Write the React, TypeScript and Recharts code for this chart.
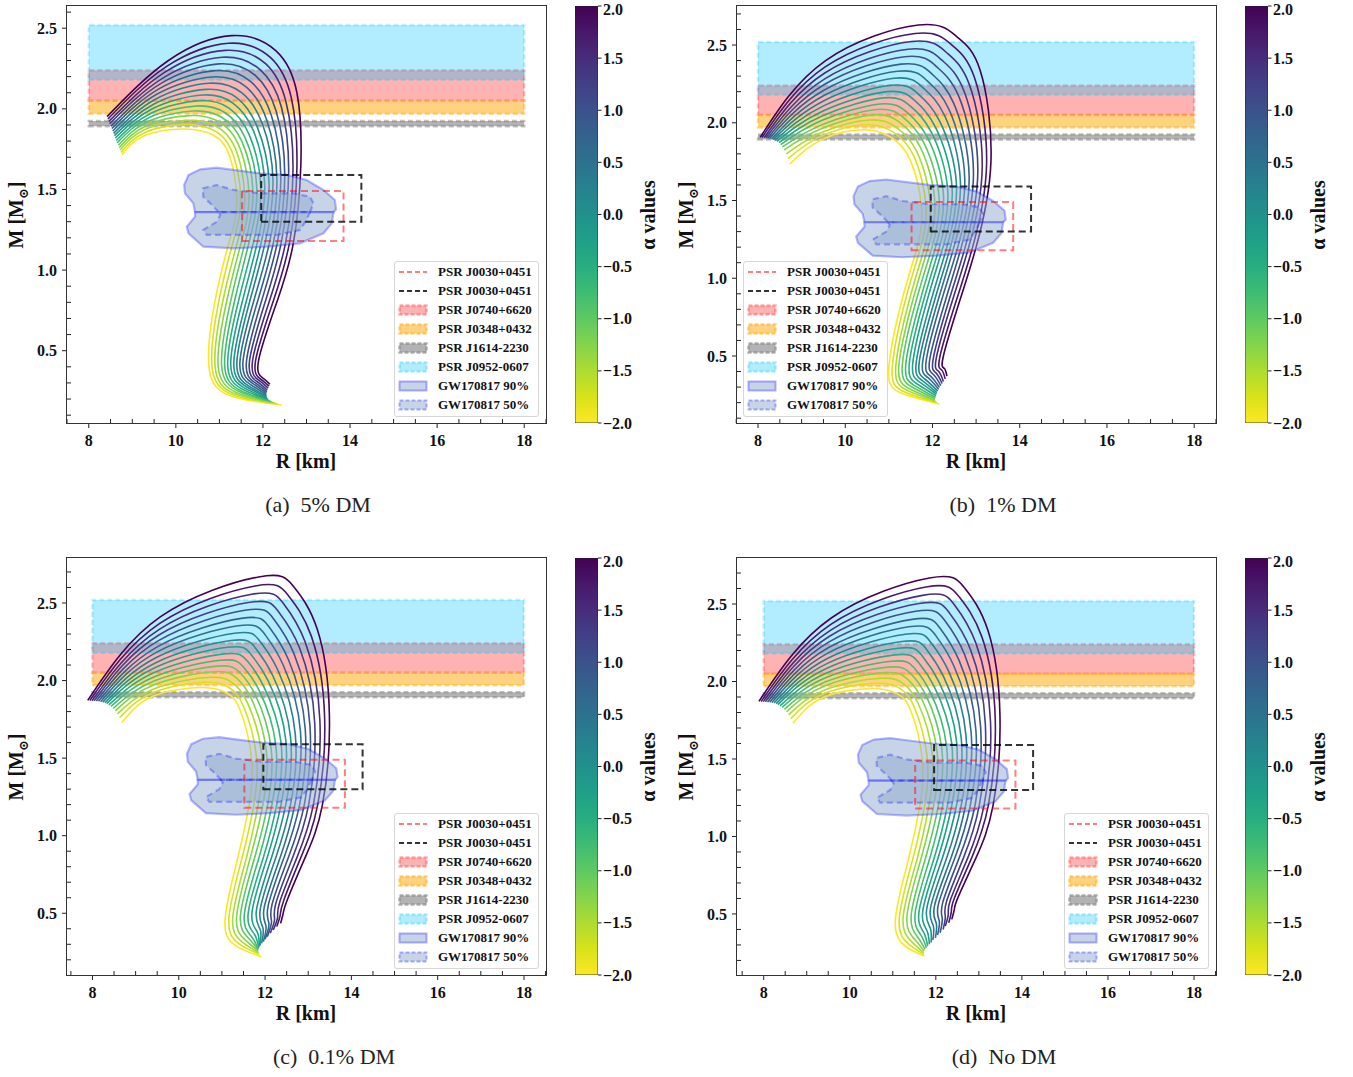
import { ComposedChart, Scatter, XAxis, YAxis } from 'recharts'

// alpha values of the 17 tracks, first = yellow, last = purple
const ALPHAS = [-2, -1.75, -1.5, -1.25, -1, -0.75, -0.5, -0.25, 0, 0.25, 0.5, 0.75, 1, 1.25, 1.5, 1.75, 2]
const CURVE_COLORS = ['#fde725', '#d8e219', '#addc30', '#84d44b', '#5ec962', '#3fbc73', '#28ae80', '#1fa088', '#21918c', '#26828e', '#2c728e', '#33638d', '#3b528b', '#424086', '#472d7b', '#48186a', '#440154']

// points along each M-R track (rows: low-mass end -> bend -> min R -> ... -> max mass -> unstable end)
// panel (a) 5% DM
const A_R = [
  [12.43, 12.34, 12.27, 12.22, 12.18, 12.15, 12.12, 12.10, 12.09, 12.08, 12.08, 12.08, 12.09, 12.10, 12.12, 12.14, 12.16],
  [11.25, 11.30, 11.34, 11.39, 11.44, 11.48, 11.53, 11.58, 11.63, 11.67, 11.72, 11.77, 11.81, 11.86, 11.91, 11.95, 12.00],
  [10.76, 10.83, 10.90, 10.97, 11.05, 11.12, 11.19, 11.26, 11.33, 11.40, 11.47, 11.54, 11.62, 11.69, 11.76, 11.83, 11.90],
  [10.90, 10.99, 11.08, 11.17, 11.26, 11.35, 11.44, 11.53, 11.62, 11.70, 11.79, 11.88, 11.97, 12.06, 12.15, 12.24, 12.33],
  [11.22, 11.31, 11.41, 11.50, 11.59, 11.68, 11.78, 11.87, 11.96, 12.05, 12.15, 12.24, 12.33, 12.42, 12.52, 12.61, 12.70],
  [11.40, 11.49, 11.58, 11.68, 11.77, 11.86, 11.95, 12.04, 12.14, 12.23, 12.32, 12.41, 12.50, 12.59, 12.69, 12.78, 12.87],
  [11.20, 11.27, 11.35, 11.43, 11.51, 11.59, 11.68, 11.78, 11.87, 11.98, 12.08, 12.19, 12.30, 12.42, 12.53, 12.65, 12.78],
  [10.75, 10.82, 10.89, 10.97, 11.05, 11.13, 11.22, 11.31, 11.41, 11.51, 11.62, 11.72, 11.83, 11.94, 12.06, 12.17, 12.30],
  [10.10, 10.17, 10.25, 10.32, 10.40, 10.47, 10.54, 10.62, 10.69, 10.76, 10.84, 10.91, 10.99, 11.06, 11.13, 11.21, 11.28],
  [9.25, 9.28, 9.30, 9.33, 9.36, 9.39, 9.43, 9.46, 9.50, 9.54, 9.57, 9.61, 9.66, 9.70, 9.74, 9.78, 9.83],
  [8.76, 8.74, 8.72, 8.70, 8.68, 8.65, 8.63, 8.61, 8.59, 8.57, 8.55, 8.53, 8.51, 8.48, 8.46, 8.44, 8.42],
]
const A_M = [
  [0.163, 0.17, 0.175, 0.18, 0.185, 0.19, 0.197, 0.203, 0.21, 0.218, 0.226, 0.235, 0.245, 0.256, 0.268, 0.28, 0.292],
  [0.22, 0.227, 0.234, 0.241, 0.248, 0.254, 0.261, 0.268, 0.275, 0.282, 0.289, 0.296, 0.303, 0.309, 0.316, 0.323, 0.33],
  [0.40, 0.403, 0.405, 0.408, 0.41, 0.413, 0.415, 0.418, 0.42, 0.423, 0.425, 0.428, 0.43, 0.433, 0.435, 0.438, 0.44],
  [0.81, 0.81, 0.81, 0.81, 0.81, 0.81, 0.81, 0.81, 0.81, 0.81, 0.81, 0.81, 0.81, 0.81, 0.81, 0.81, 0.81],
  [1.17, 1.17, 1.17, 1.17, 1.17, 1.17, 1.17, 1.17, 1.17, 1.17, 1.17, 1.17, 1.17, 1.17, 1.17, 1.17, 1.17],
  [1.43, 1.444, 1.458, 1.471, 1.485, 1.499, 1.513, 1.526, 1.54, 1.554, 1.568, 1.581, 1.595, 1.609, 1.623, 1.636, 1.65],
  [1.73, 1.747, 1.764, 1.783, 1.801, 1.821, 1.842, 1.865, 1.887, 1.912, 1.936, 1.962, 1.988, 2.015, 2.042, 2.07, 2.10],
  [1.85, 1.874, 1.897, 1.923, 1.948, 1.976, 2.005, 2.036, 2.067, 2.10, 2.135, 2.169, 2.206, 2.242, 2.28, 2.319, 2.36],
  [1.875, 1.902, 1.929, 1.958, 1.987, 2.018, 2.051, 2.086, 2.121, 2.159, 2.198, 2.237, 2.279, 2.320, 2.363, 2.407, 2.454],
  [1.83, 1.852, 1.874, 1.897, 1.921, 1.946, 1.973, 2.001, 2.03, 2.061, 2.092, 2.124, 2.158, 2.191, 2.226, 2.262, 2.30],
  [1.715, 1.73, 1.745, 1.759, 1.774, 1.789, 1.804, 1.819, 1.834, 1.848, 1.863, 1.878, 1.893, 1.908, 1.922, 1.937, 1.952],
]

// panel (b) 1% DM
const B_R = [
  [12.16, 12.10, 12.07, 12.06, 12.06, 12.07, 12.08, 12.09, 12.10, 12.12, 12.14, 12.16, 12.19, 12.22, 12.25, 12.29, 12.33],
  [11.25, 11.31, 11.38, 11.44, 11.51, 11.57, 11.63, 11.70, 11.76, 11.82, 11.89, 11.95, 12.02, 12.08, 12.14, 12.21, 12.27],
  [11.00, 11.08, 11.16, 11.23, 11.31, 11.39, 11.47, 11.55, 11.63, 11.70, 11.78, 11.86, 11.94, 12.02, 12.09, 12.17, 12.25],
  [11.30, 11.38, 11.47, 11.55, 11.63, 11.72, 11.80, 11.88, 11.97, 12.05, 12.13, 12.21, 12.30, 12.38, 12.46, 12.55, 12.63],
  [11.65, 11.73, 11.82, 11.90, 11.99, 12.07, 12.16, 12.24, 12.33, 12.41, 12.49, 12.58, 12.66, 12.75, 12.83, 12.92, 13.00],
  [11.75, 11.85, 11.95, 12.05, 12.15, 12.25, 12.35, 12.45, 12.55, 12.64, 12.74, 12.84, 12.94, 13.04, 13.14, 13.24, 13.34],
  [11.49, 11.57, 11.64, 11.72, 11.80, 11.89, 11.98, 12.07, 12.17, 12.28, 12.38, 12.49, 12.61, 12.72, 12.84, 12.96, 13.09],
  [11.03, 11.10, 11.17, 11.25, 11.33, 11.41, 11.50, 11.59, 11.68, 11.78, 11.88, 11.99, 12.10, 12.21, 12.32, 12.44, 12.56],
  [10.40, 10.48, 10.56, 10.64, 10.72, 10.80, 10.88, 10.96, 11.04, 11.12, 11.20, 11.28, 11.36, 11.44, 11.52, 11.60, 11.68],
  [9.45, 9.45, 9.46, 9.46, 9.47, 9.47, 9.48, 9.49, 9.49, 9.50, 9.51, 9.51, 9.52, 9.53, 9.53, 9.54, 9.55],
  [8.73, 8.69, 8.65, 8.60, 8.56, 8.52, 8.48, 8.43, 8.39, 8.35, 8.31, 8.26, 8.22, 8.18, 8.14, 8.09, 8.05],
]
const B_M = [
  [0.191, 0.2, 0.208, 0.216, 0.225, 0.234, 0.244, 0.254, 0.264, 0.275, 0.286, 0.298, 0.31, 0.323, 0.336, 0.353, 0.371],
  [0.265, 0.275, 0.284, 0.294, 0.304, 0.313, 0.323, 0.333, 0.343, 0.352, 0.362, 0.372, 0.381, 0.391, 0.401, 0.41, 0.42],
  [0.43, 0.434, 0.439, 0.443, 0.448, 0.452, 0.456, 0.461, 0.465, 0.469, 0.474, 0.478, 0.483, 0.487, 0.491, 0.496, 0.50],
  [0.86, 0.86, 0.86, 0.86, 0.86, 0.86, 0.86, 0.86, 0.86, 0.86, 0.86, 0.86, 0.86, 0.86, 0.86, 0.86, 0.86],
  [1.20, 1.20, 1.20, 1.20, 1.20, 1.20, 1.20, 1.20, 1.20, 1.20, 1.20, 1.20, 1.20, 1.20, 1.20, 1.20, 1.20],
  [1.45, 1.469, 1.488, 1.506, 1.525, 1.544, 1.563, 1.581, 1.60, 1.619, 1.638, 1.656, 1.675, 1.694, 1.713, 1.731, 1.75],
  [1.76, 1.787, 1.814, 1.843, 1.872, 1.903, 1.936, 1.971, 2.007, 2.045, 2.084, 2.123, 2.165, 2.206, 2.249, 2.293, 2.34],
  [1.91, 1.94, 1.97, 2.002, 2.034, 2.069, 2.105, 2.144, 2.183, 2.226, 2.269, 2.313, 2.359, 2.404, 2.452, 2.501, 2.553],
  [1.955, 1.987, 2.018, 2.051, 2.085, 2.121, 2.16, 2.20, 2.241, 2.286, 2.331, 2.377, 2.425, 2.473, 2.523, 2.574, 2.629],
  [1.89, 1.914, 1.937, 1.963, 1.988, 2.016, 2.045, 2.076, 2.107, 2.14, 2.175, 2.209, 2.246, 2.282, 2.32, 2.359, 2.40],
  [1.735, 1.77, 1.80, 1.825, 1.845, 1.86, 1.872, 1.88, 1.887, 1.892, 1.896, 1.899, 1.901, 1.903, 1.904, 1.905, 1.906],
]

// panel (c) 0.1% DM
const C_R = [
  [11.91, 11.87, 11.85, 11.84, 11.84, 11.84, 11.85, 11.86, 11.88, 11.92, 11.96, 12.00, 12.05, 12.12, 12.19, 12.27, 12.36],
  [11.35, 11.42, 11.48, 11.55, 11.62, 11.68, 11.75, 11.82, 11.89, 11.95, 12.02, 12.09, 12.15, 12.22, 12.29, 12.35, 12.42],
  [11.07, 11.16, 11.25, 11.34, 11.43, 11.52, 11.61, 11.70, 11.80, 11.89, 11.98, 12.07, 12.16, 12.25, 12.34, 12.43, 12.52],
  [11.37, 11.47, 11.57, 11.66, 11.76, 11.86, 11.96, 12.05, 12.15, 12.25, 12.35, 12.44, 12.54, 12.64, 12.74, 12.83, 12.93],
  [11.63, 11.74, 11.84, 11.95, 12.06, 12.16, 12.27, 12.37, 12.48, 12.59, 12.69, 12.80, 12.91, 13.01, 13.12, 13.22, 13.33],
  [11.69, 11.80, 11.92, 12.03, 12.14, 12.25, 12.37, 12.48, 12.59, 12.70, 12.82, 12.93, 13.04, 13.15, 13.27, 13.38, 13.49],
  [11.42, 11.50, 11.59, 11.68, 11.77, 11.86, 11.96, 12.07, 12.18, 12.30, 12.42, 12.54, 12.67, 12.80, 12.93, 13.07, 13.21],
  [11.11, 11.18, 11.25, 11.33, 11.41, 11.49, 11.58, 11.67, 11.77, 11.87, 11.98, 12.08, 12.19, 12.30, 12.42, 12.53, 12.66],
  [10.57, 10.65, 10.73, 10.81, 10.89, 10.97, 11.05, 11.13, 11.21, 11.29, 11.37, 11.45, 11.53, 11.61, 11.69, 11.77, 11.85],
  [9.41, 9.42, 9.43, 9.43, 9.44, 9.45, 9.46, 9.47, 9.48, 9.49, 9.50, 9.51, 9.52, 9.53, 9.55, 9.56, 9.57],
  [8.68, 8.63, 8.58, 8.53, 8.48, 8.43, 8.38, 8.33, 8.29, 8.24, 8.19, 8.14, 8.09, 8.04, 7.99, 7.94, 7.89],
]
const C_M = [
  [0.22, 0.235, 0.245, 0.255, 0.263, 0.27, 0.277, 0.284, 0.291, 0.306, 0.317, 0.332, 0.349, 0.371, 0.392, 0.414, 0.435],
  [0.285, 0.298, 0.312, 0.325, 0.339, 0.352, 0.366, 0.379, 0.393, 0.406, 0.419, 0.433, 0.446, 0.46, 0.473, 0.487, 0.50],
  [0.45, 0.459, 0.468, 0.476, 0.485, 0.494, 0.503, 0.511, 0.52, 0.529, 0.538, 0.546, 0.555, 0.564, 0.573, 0.581, 0.59],
  [0.86, 0.86, 0.86, 0.86, 0.86, 0.86, 0.86, 0.86, 0.86, 0.86, 0.86, 0.86, 0.86, 0.86, 0.86, 0.86, 0.86],
  [1.20, 1.20, 1.20, 1.20, 1.20, 1.20, 1.20, 1.20, 1.20, 1.20, 1.20, 1.20, 1.20, 1.20, 1.20, 1.20, 1.20],
  [1.49, 1.508, 1.526, 1.544, 1.563, 1.581, 1.599, 1.617, 1.635, 1.653, 1.671, 1.689, 1.708, 1.726, 1.744, 1.762, 1.78],
  [1.81, 1.834, 1.858, 1.884, 1.91, 1.938, 1.968, 1.999, 2.031, 2.065, 2.10, 2.136, 2.173, 2.21, 2.248, 2.288, 2.33],
  [1.92, 1.952, 1.984, 2.018, 2.053, 2.09, 2.129, 2.17, 2.212, 2.257, 2.303, 2.35, 2.40, 2.448, 2.499, 2.551, 2.607],
  [1.955, 1.989, 2.021, 2.057, 2.093, 2.131, 2.172, 2.215, 2.258, 2.305, 2.353, 2.401, 2.453, 2.503, 2.556, 2.61, 2.668],
  [1.90, 1.924, 1.947, 1.973, 1.998, 2.026, 2.055, 2.086, 2.117, 2.15, 2.185, 2.219, 2.256, 2.292, 2.33, 2.369, 2.41],
  [1.73, 1.76, 1.785, 1.805, 1.82, 1.833, 1.843, 1.851, 1.857, 1.861, 1.864, 1.866, 1.868, 1.869, 1.87, 1.871, 1.872],
]

// panel (d) no DM: low-mass part read separately, the rest matches (c)
const D_R_LOW = [
  [11.74, 11.72, 11.72, 11.73, 11.75, 11.78, 11.81, 11.85, 11.89, 11.93, 11.99, 12.04, 12.10, 12.17, 12.22, 12.30, 12.37],
  [11.30, 11.37, 11.44, 11.51, 11.58, 11.65, 11.72, 11.79, 11.87, 11.94, 12.01, 12.08, 12.15, 12.22, 12.29, 12.36, 12.43],
  [11.06, 11.15, 11.24, 11.33, 11.43, 11.52, 11.61, 11.70, 11.79, 11.88, 11.97, 12.06, 12.16, 12.25, 12.34, 12.43, 12.52],
]
const D_M_LOW = [
  [0.228, 0.239, 0.249, 0.26, 0.271, 0.282, 0.293, 0.304, 0.316, 0.331, 0.346, 0.364, 0.379, 0.40, 0.422, 0.443, 0.465],
  [0.29, 0.305, 0.32, 0.335, 0.35, 0.365, 0.38, 0.395, 0.41, 0.425, 0.44, 0.455, 0.47, 0.485, 0.50, 0.515, 0.53],
  [0.46, 0.469, 0.479, 0.488, 0.498, 0.507, 0.516, 0.526, 0.535, 0.544, 0.554, 0.563, 0.573, 0.582, 0.591, 0.601, 0.61],
]
const D_R = [...D_R_LOW, ...C_R.slice(3)]
const D_M = [...D_M_LOW, ...C_M.slice(3)]

// mass bands [Msun], drawn over R = 8..18 km
const BAND_NAMES = ['PSR J0740+6620', 'PSR J0348+0432', 'PSR J1614-2230', 'PSR J0952-0607']
const BAND_LO = [2.05, 1.97, 1.892, 2.18]
const BAND_HI = [2.24, 2.05, 1.924, 2.52]
const BAND_R = [8, 18]
const BAND_COLORS = ['#ff0000', '#ffa500', '#808080', '#00bfff']
const BAND_ALPHA = [0.3, 0.5, 0.6, 0.3]

// NICER boxes for PSR J0030+0451 (two analyses)
const NICER_R = [[11.52, 13.85], [11.96, 14.26]]
const NICER_M = [[1.18, 1.49], [1.30, 1.59]]

// GW170817 contours, each split into upper / lower lobe
const GW90_UPPER = [[10.44, 1.36], [10.40, 1.414], [10.21, 1.476], [10.19, 1.528], [10.29, 1.59], [10.56, 1.625], [10.94, 1.635], [11.32, 1.621], [11.93, 1.60], [12.55, 1.59], [13.0, 1.559], [13.39, 1.497], [13.65, 1.435], [13.68, 1.377], [13.62, 1.36]]
const GW90_LOWER = [[13.62, 1.36], [13.58, 1.29], [13.39, 1.228], [12.85, 1.166], [12.09, 1.145], [11.32, 1.135], [10.63, 1.145], [10.29, 1.228], [10.25, 1.269], [10.44, 1.331], [10.44, 1.36]]
const GW50_UPPER = [[10.98, 1.36], [10.83, 1.404], [10.63, 1.455], [10.62, 1.507], [10.94, 1.528], [11.32, 1.497], [11.93, 1.476], [12.70, 1.476], [13.08, 1.455], [13.16, 1.414], [13.08, 1.36]]
const GW50_LOWER = [[13.08, 1.36], [13.0, 1.311], [12.85, 1.249], [12.32, 1.218], [11.32, 1.218], [10.71, 1.218], [10.63, 1.249], [10.94, 1.30], [11.02, 1.342], [10.98, 1.36]]

const LEGEND_LABELS = ['PSR J0030+0451', 'PSR J0030+0451', ...BAND_NAMES, 'GW170817 90%', 'GW170817 50%']

const X_TICKS = [7.5, 8, 8.5, 9, 9.5, 10, 10.5, 11, 11.5, 12, 12.5, 13, 13.5, 14, 14.5, 15, 15.5, 16, 16.5, 17, 17.5, 18, 18.5]
const X_MAJOR = [8, 10, 12, 14, 16, 18]
const Y_TICKS_A = [0.1, 0.2, 0.3, 0.4, 0.5, 0.6, 0.7, 0.8, 0.9, 1.0, 1.1, 1.2, 1.3, 1.4, 1.5, 1.6, 1.7, 1.8, 1.9, 2.0, 2.1, 2.2, 2.3, 2.4, 2.5, 2.6]
const Y_TICKS_B = [...Y_TICKS_A, 2.7]
const Y_TICKS_CD = Y_TICKS_B.slice(1)
const Y_MAJOR = [0.5, 1.0, 1.5, 2.0, 2.5]
const CB_TICKS = [-2, -1.5, -1, -0.5, 0, 0.5, 1, 1.5, 2]
const CB_BOX = [{ x: 0, y: -2 }, { x: 1, y: -2 }, { x: 1, y: 2 }, { x: 0, y: 2 }]

const SERIF = "'Liberation Serif', 'Times New Roman', 'DejaVu Serif', serif"
const TICK_FONT = { fontFamily: SERIF, fontWeight: 700, fontSize: 16, fill: '#111' }

const PANELS = [
  { id: 'a', left: 67, top: 6, xDomain: [7.5, 18.5], yDomain: [0.0515, 2.638], yTicks: Y_TICKS_A, R: A_R, M: A_M, legendLeft: 327, caption: '(a)  5% DM', captionX: 318 },
  { id: 'b', left: 737, top: 6, xDomain: [7.518, 18.5], yDomain: [0.069, 2.751], yTicks: Y_TICKS_B, R: B_R, M: B_M, legendLeft: 6, caption: '(b)  1% DM', captionX: 1003 },
  { id: 'c', left: 67, top: 558, xDomain: [7.41, 18.51], yDomain: [0.102, 2.79], yTicks: Y_TICKS_CD, R: C_R, M: C_M, legendLeft: 327, caption: '(c)  0.1% DM', captionX: 334 },
  { id: 'd', left: 737, top: 558, xDomain: [7.38, 18.51], yDomain: [0.106, 2.797], yTicks: Y_TICKS_CD, R: D_R, M: D_M, legendLeft: 327, caption: '(d)  No DM', captionX: 1004 },
]

const PLOT_W = 479
const PLOT_H = 417

const noMarker = () => <g />
const toPts = (pairs: number[][]) => pairs.map(([R, M]) => ({ R, M }))
const box = (r: number[], m: number[]) => [{ R: r[0], M: m[0] }, { R: r[1], M: m[0] }, { R: r[1], M: m[1] }, { R: r[0], M: m[1] }]

function tracks(rows: number[][], mRows: number[][]) {
  return ALPHAS.map((_, i) => rows.map((row, s) => ({ R: row[i], M: mRows[s][i] })))
}

function XTick({ x, y, payload }: any) {
  const v = payload.value
  const major = X_MAJOR.some((t) => Math.abs(t - v) < 1e-6)
  return (
    <g>
      <line x1={x} x2={x} y1={y} y2={major ? y + 5 : y - 4} stroke="#222" strokeWidth={1} />
      {major && (
        <text x={x} y={y + 23} textAnchor="middle" {...TICK_FONT}>
          {v}
        </text>
      )}
    </g>
  )
}

function YTick({ x, y, payload }: any) {
  const v = payload.value
  const major = Y_MAJOR.some((t) => Math.abs(t - v) < 1e-6)
  return (
    <g>
      <line x1={major ? x - 5 : x} x2={major ? x : x + 4} y1={y} y2={y} stroke="#222" strokeWidth={1} />
      {major && (
        <text x={x - 10} y={y} dy="0.35em" textAnchor="end" {...TICK_FONT}>
          {v.toFixed(1)}
        </text>
      )}
    </g>
  )
}

function CbTick({ x, y, payload }: any) {
  const v = payload.value
  const label = (v < 0 ? '\u2212' : '') + Math.abs(v).toFixed(1)
  // the top label sits at the page edge; nudge it down so it stays whole
  const ty = v === 2 ? y + 3 : y
  return (
    <g>
      <line x1={x} x2={x + 3.5} y1={y} y2={y} stroke="#222" strokeWidth={1} />
      <text x={x + 5} y={ty} dy="0.35em" textAnchor="start" {...TICK_FONT}>
        {label}
      </text>
    </g>
  )
}

function Handle({ i }: { i: number }) {
  if (i < 2) {
    const c = i === 0 ? '#ff0000' : '#000000'
    const o = i === 0 ? 0.5 : 0.8
    return (
      <svg width={30} height={12}>
        <line x1={1} x2={29} y1={6} y2={6} stroke={c} strokeOpacity={o} strokeWidth={2} strokeDasharray="5 3" />
      </svg>
    )
  }
  if (i < 6) {
    const c = BAND_COLORS[i - 2]
    const o = BAND_ALPHA[i - 2]
    return (
      <svg width={30} height={12}>
        <rect x={1.5} y={1.5} width={27} height={9} fill={c} fillOpacity={o} stroke={c} strokeOpacity={o} strokeWidth={2.5} strokeDasharray="4 2" />
      </svg>
    )
  }
  return (
    <svg width={30} height={12}>
      <rect x={1.5} y={1.5} width={27} height={9} fill="#8fa9d0" fillOpacity={0.5} stroke="#0000ff" strokeOpacity={0.3} strokeWidth={2} strokeDasharray={i === 7 ? '4 2' : undefined} />
    </svg>
  )
}

function LegendBox({ left, top }: { left: number; top: number }) {
  return (
    <div
      style={{
        position: 'absolute',
        left,
        top,
        width: 145,
        height: 156,
        background: 'rgba(255,255,255,0.85)',
        border: '1px solid #d6d6d6',
        borderRadius: 3,
        boxSizing: 'border-box',
        fontFamily: SERIF,
        fontWeight: 700,
        fontSize: 13,
        color: '#111',
      }}
    >
      {LEGEND_LABELS.map((label, i) => (
        <div key={i} style={{ position: 'absolute', left: 3, top: 0.5 + i * 19, height: 19, display: 'flex', alignItems: 'center', whiteSpace: 'nowrap' }}>
          <Handle i={i} />
          <span style={{ marginLeft: 10 }}>{label}</span>
        </div>
      ))}
    </div>
  )
}

function ColorBar({ id, left, top }: { id: string; left: number; top: number }) {
  return (
    <div style={{ position: 'absolute', left, top: top - 16 }}>
      <ComposedChart width={83} height={490} margin={{ top: 16, right: 0, bottom: 57, left: 0 }}>
        <defs>
          <linearGradient id={id} x1="0" y1="1" x2="0" y2="0">
            {CURVE_COLORS.map((c, i) => (
              <stop key={i} offset={i / (CURVE_COLORS.length - 1)} stopColor={c} />
            ))}
          </linearGradient>
        </defs>
        <XAxis type="number" dataKey="x" domain={[0, 1]} allowDataOverflow hide />
        <YAxis
          type="number"
          dataKey="y"
          orientation="right"
          domain={[-2, 2]}
          allowDataOverflow
          ticks={CB_TICKS}
          interval={0}
          tick={CbTick}
          tickLine={false}
          axisLine={false}
          tickSize={0}
          tickMargin={0}
          width={60}
        />
        <Scatter
          data={CB_BOX}
          shape={noMarker}
          line={{ fill: `url(#${id})`, stroke: '#222', strokeWidth: 0.8 }}
          lineJointType="linearClosed"
          isAnimationActive={false}
        />
      </ComposedChart>
    </div>
  )
}

function Panel({ spec }: { spec: (typeof PANELS)[number] }) {
  const { id, left, top } = spec
  const curves = tracks(spec.R, spec.M)
  return (
    <>
      <div style={{ position: 'absolute', left: left - 67, top: top - 6 }}>
        <ComposedChart width={560} height={480} margin={{ top: 6, right: 14, bottom: 0, left: 0 }}>
          <XAxis
            type="number"
            dataKey="R"
            domain={spec.xDomain}
            allowDataOverflow
            ticks={X_TICKS}
            interval={0}
            tick={XTick}
            tickLine={false}
            axisLine={false}
            tickSize={0}
            tickMargin={0}
            height={57}
          />
          <YAxis
            type="number"
            dataKey="M"
            domain={spec.yDomain}
            allowDataOverflow
            ticks={spec.yTicks}
            interval={0}
            tick={YTick}
            tickLine={false}
            axisLine={false}
            tickSize={0}
            tickMargin={0}
            width={67}
          />
          {BAND_NAMES.map((name, b) => (
            <Scatter
              key={name}
              data={box(BAND_R, [BAND_LO[b], BAND_HI[b]])}
              shape={noMarker}
              line={{
                fill: BAND_COLORS[b],
                fillOpacity: BAND_ALPHA[b],
                stroke: BAND_COLORS[b],
                strokeOpacity: BAND_ALPHA[b] * 0.8,
                strokeWidth: 2.5,
                strokeDasharray: '5 3',
              }}
              lineJointType="linearClosed"
              isAnimationActive={false}
            />
          ))}
          {curves.map((pts, i) => (
            <Scatter
              key={`alpha-${ALPHAS[i]}`}
              data={pts}
              shape={noMarker}
              line={{ stroke: CURVE_COLORS[i], strokeWidth: 1.6, fill: 'none' }}
              lineJointType="natural"
              isAnimationActive={false}
            />
          ))}
          {[GW90_UPPER, GW90_LOWER, GW50_UPPER, GW50_LOWER].map((poly, k) => (
            <Scatter
              key={`gw-${k}`}
              data={toPts(poly)}
              shape={noMarker}
              line={{
                fill: '#8fa9d0',
                fillOpacity: 0.5,
                stroke: '#0000ff',
                strokeOpacity: 0.28,
                strokeWidth: 2.2,
                strokeDasharray: k >= 2 ? '6 4' : undefined,
              }}
              lineJointType="linearClosed"
              isAnimationActive={false}
            />
          ))}
          {NICER_R.map((r, k) => (
            <Scatter
              key={`nicer-${k}`}
              data={box(r, NICER_M[k])}
              shape={noMarker}
              line={{
                fill: 'none',
                stroke: k === 0 ? '#ff0000' : '#000000',
                strokeOpacity: k === 0 ? 0.5 : 0.8,
                strokeWidth: 2,
                strokeDasharray: '7 4',
              }}
              lineJointType="linearClosed"
              isAnimationActive={false}
            />
          ))}
        </ComposedChart>
      </div>
      <div
        style={{
          position: 'absolute',
          left: left - 1,
          top: top - 1,
          width: PLOT_W + 2,
          height: PLOT_H + 2,
          border: '1px solid #333',
          boxSizing: 'border-box',
          pointerEvents: 'none',
        }}
      />
      <LegendBox left={left + spec.legendLeft} top={top + 255} />
      <div
        style={{
          position: 'absolute',
          left: left + 239,
          top: top + 455,
          transform: 'translate(-50%, -50%)',
          fontFamily: SERIF,
          fontWeight: 700,
          fontSize: 20,
          whiteSpace: 'nowrap',
          color: '#111',
        }}
      >
        R [km]
      </div>
      <div
        style={{
          position: 'absolute',
          left: left - 49,
          top: top + 209,
          transform: 'translate(-50%, -50%) rotate(-90deg)',
          fontFamily: SERIF,
          fontWeight: 700,
          fontSize: 20,
          whiteSpace: 'nowrap',
          color: '#111',
        }}
      >
        M [M<sub style={{ fontSize: 13 }}>⊙</sub>]
      </div>
      <ColorBar id={`viridis-${id}`} left={left + 508} top={top} />
      <div
        style={{
          position: 'absolute',
          left: left + 581,
          top: top + 209,
          transform: 'translate(-50%, -50%) rotate(-90deg)',
          fontFamily: SERIF,
          fontWeight: 700,
          fontSize: 20,
          whiteSpace: 'nowrap',
          color: '#111',
        }}
      >
        α values
      </div>
      <div
        style={{
          position: 'absolute',
          left: spec.captionX,
          top: top + 499,
          transform: 'translate(-50%, -50%)',
          fontFamily: SERIF,
          fontSize: 22,
          whiteSpace: 'pre',
          color: '#222',
        }}
      >
        {spec.caption}
      </div>
    </>
  )
}

export default function App() {
  return (
    <div style={{ position: 'absolute', left: 0, top: 0, width: 1353, height: 1077, background: '#fff', overflow: 'hidden' }}>
      {PANELS.map((p) => (
        <Panel key={p.id} spec={p} />
      ))}
    </div>
  )
}
